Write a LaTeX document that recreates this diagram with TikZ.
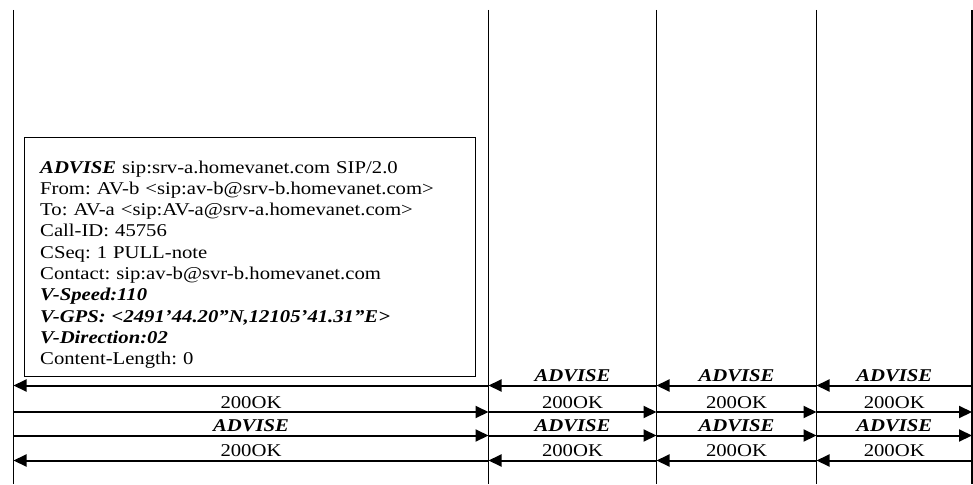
\documentclass[tikz,border=0pt]{standalone}
\usepackage{fontspec}
\setmainfont{Liberation Serif}[FakeStretch=1.15]
\usetikzlibrary{arrows.meta,positioning}
\frenchspacing

\begin{document}
\begin{tikzpicture}[
  x=1pt, y=-1pt,
  font={\fontsize{18}{21.3}\selectfont},
  life/.style={line width=1.1pt},
  msg/.style={-{Triangle[length=13pt,width=12pt]}, line width=2pt},
  lbl/.style={midway, above, inner sep=2.5pt},
  cmd/.style={font={\fontsize{18}{21.3}\selectfont\bfseries\itshape}},
  reqbox/.style={draw, line width=1.3pt, minimum width=451pt, minimum height=239pt, anchor=north west, inner sep=0pt},
  reqtext/.style={align=left, text width=430pt, inner sep=0pt, anchor=base west}
]
\useasboundingbox (0,0) rectangle (973,484);

% lifelines and message rows
\coordinate (a0) at (13.5,10);
\coordinate (a1) at (488.5,10);
\coordinate (a2) at (656.5,10);
\coordinate (a3) at (816.5,10);
\coordinate (a4) at (972,10);
\coordinate (bot) at (0,484);
\coordinate (r1) at (0,385.5);
\coordinate (r2) at (0,412);
\coordinate (r3) at (0,435.5);
\coordinate (r4) at (0,460.5);

\draw[life] (a0) -- (a0 |- bot);
\draw[life] (a1) -- (a1 |- bot);
\draw[life] (a2) -- (a2 |- bot);
\draw[life] (a3) -- (a3 |- bot);
\draw[life] (a4) -- (a4 |- bot);

% the request carried by the first ADVISE
\node[reqbox] (reqbox) at (24,137) {};
\node[reqtext] (req) at (40,173) {\textbf{\textit{ADVISE}} sip:srv-a.homevanet.com SIP/2.0\\
From: AV-b <sip:av-b@srv-b.homevanet.com>\\
To: AV-a <sip:AV-a@srv-a.homevanet.com>\\
Call-ID: 45756\\
CSeq: 1 PULL-note\\
Contact: sip:av-b@svr-b.homevanet.com\\
\textbf{\textit{V-Speed:110}}\\
\textbf{\textit{V-GPS: <2491’44.20”N,12105’41.31”E>}}\\
\textbf{\textit{V-Direction:02}}\\
Content-Length: 0};

% row 1
\draw[msg] (a1 |- r1) -- (a0 |- r1);
\draw[msg] (a2 |- r1) -- (a1 |- r1) node[lbl, cmd] {ADVISE};
\draw[msg] (a3 |- r1) -- (a2 |- r1) node[lbl, cmd] {ADVISE};
\draw[msg] (a4 |- r1) -- (a3 |- r1) node[lbl, cmd] {ADVISE};

% row 2
\draw[msg] (a0 |- r2) -- (a1 |- r2) node[lbl] {200OK};
\draw[msg] (a1 |- r2) -- (a2 |- r2) node[lbl] {200OK};
\draw[msg] (a2 |- r2) -- (a3 |- r2) node[lbl] {200OK};
\draw[msg] (a3 |- r2) -- (a4 |- r2) node[lbl] {200OK};

% row 3
\draw[msg] (a0 |- r3) -- (a1 |- r3) node[lbl, cmd] {ADVISE};
\draw[msg] (a1 |- r3) -- (a2 |- r3) node[lbl, cmd] {ADVISE};
\draw[msg] (a2 |- r3) -- (a3 |- r3) node[lbl, cmd] {ADVISE};
\draw[msg] (a3 |- r3) -- (a4 |- r3) node[lbl, cmd] {ADVISE};

% row 4
\draw[msg] (a1 |- r4) -- (a0 |- r4) node[lbl] {200OK};
\draw[msg] (a2 |- r4) -- (a1 |- r4) node[lbl] {200OK};
\draw[msg] (a3 |- r4) -- (a2 |- r4) node[lbl] {200OK};
\draw[msg] (a4 |- r4) -- (a3 |- r4) node[lbl] {200OK};

\end{tikzpicture}
\end{document}
